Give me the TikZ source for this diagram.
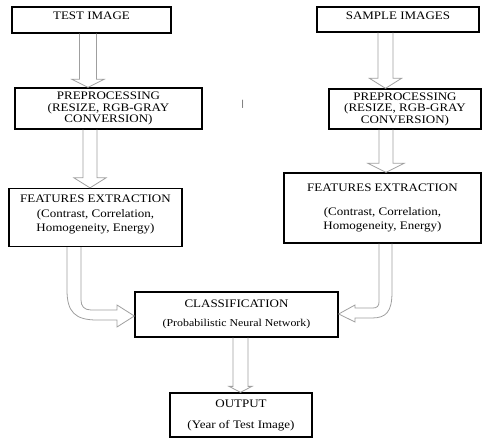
\documentclass[tikz,border=0pt]{standalone}
\usepackage{fontspec}
\setmainfont{Liberation Serif}[FakeStretch=1.13]
\usepackage{tikz}
\usetikzlibrary{calc}

\newcommand{\vblock}[6]{%
  \draw[blockarrow] let \p1=(#2.south), \p2=(#3.north) in
    (#1pt-#4pt,\y1) -- (#1pt-#4pt,\y2+#6pt) -- (#1pt-#5pt,\y2+#6pt) -- (#1pt,\y2)
    -- (#1pt+#5pt,\y2+#6pt) -- (#1pt+#4pt,\y2+#6pt) -- (#1pt+#4pt,\y1);}
\newcommand{\upby}[2]{\raisebox{#1}[\height][\depth]{#2}}

\begin{document}
\begin{tikzpicture}[x=1pt, y=-1pt,
  box/.style={rectangle, draw=black, line width=1.3pt, align=center, inner sep=0pt, font=\fontsize{11.5}{11.5}\selectfont},
  blockarrow/.style={draw=gray!75, line width=0.8pt}]
\useasboundingbox (0,0) rectangle (482,438);

\node (test) [box, minimum width=159pt, minimum height=26pt] at (91.5,20) {\upby{4pt}{TEST IMAGE}};
\node (sample) [box, minimum width=162pt, minimum height=25pt] at (398,19.5) {\upby{4pt}{SAMPLE IMAGES}};
\node (prepL) [box, minimum width=187pt, minimum height=41pt] at (108.5,108.5) {PREPROCESSING\\(RESIZE, RGB-GRAY\\CONVERSION)};
\node (prepR) [box, minimum width=152pt, minimum height=40pt] at (405,109) {PREPROCESSING\\(RESIZE, RGB-GRAY\\CONVERSION)};
\node (featL) [box, minimum width=173pt, minimum height=58pt] at (95.5,217.5) {\upby{3pt}{FEATURES EXTRACTION}\\[3pt]\upby{3pt}{(Contrast, Correlation,}\\[2.5pt]\upby{3pt}{Homogeneity, Energy)}};
\node (featR) [box, minimum width=197pt, minimum height=70pt] at (382.5,208) {FEATURES EXTRACTION\\[12.5pt](Contrast, Correlation,\\[2.5pt]Homogeneity, Energy)};
\node (class) [box, minimum width=203pt, minimum height=45pt] at (236.5,314.5) {CLASSIFICATION\\[7.5pt]{\fontsize{10.5}{11}\selectfont (Probabilistic Neural Network)}};
\node (output) [box, minimum width=142pt, minimum height=44pt] at (241,415) {OUTPUT\\[9.5pt](Year of Test Image)};
\node (tick) at (243,104) {\fontsize{9}{9}\selectfont |};

\vblock{88}{test}{prepL}{8.5}{16}{8}
\vblock{90}{prepL}{featL}{7}{16}{10}
\vblock{385.5}{sample}{prepR}{7.5}{16}{10}
\vblock{386}{prepR}{featR}{7}{18}{9}
\vblock{240.5}{class}{output}{7.5}{11.5}{6}

\draw[blockarrow] (67,0 |- featL.south) -- (67,290) .. controls (67,312) and (75,320) .. (97,320) -- (117,320) -- (117,327)
  -- (class.west |- 0,316) -- (117,305) -- (117,310) -- (91,310) .. controls (84,310) and (81,306) .. (81,300) -- (81,0 |- featL.south);
\draw[blockarrow] (392,0 |- featR.south) -- (392,292) .. controls (392,312) and (386,318) .. (372,318) -- (355,318) -- (355,322)
  -- (class.east |- 0,314) -- (355,305) -- (355,308) -- (373,308) .. controls (377,308) and (379,306) .. (379,302) -- (379,0 |- featR.south);
\end{tikzpicture}
\end{document}
